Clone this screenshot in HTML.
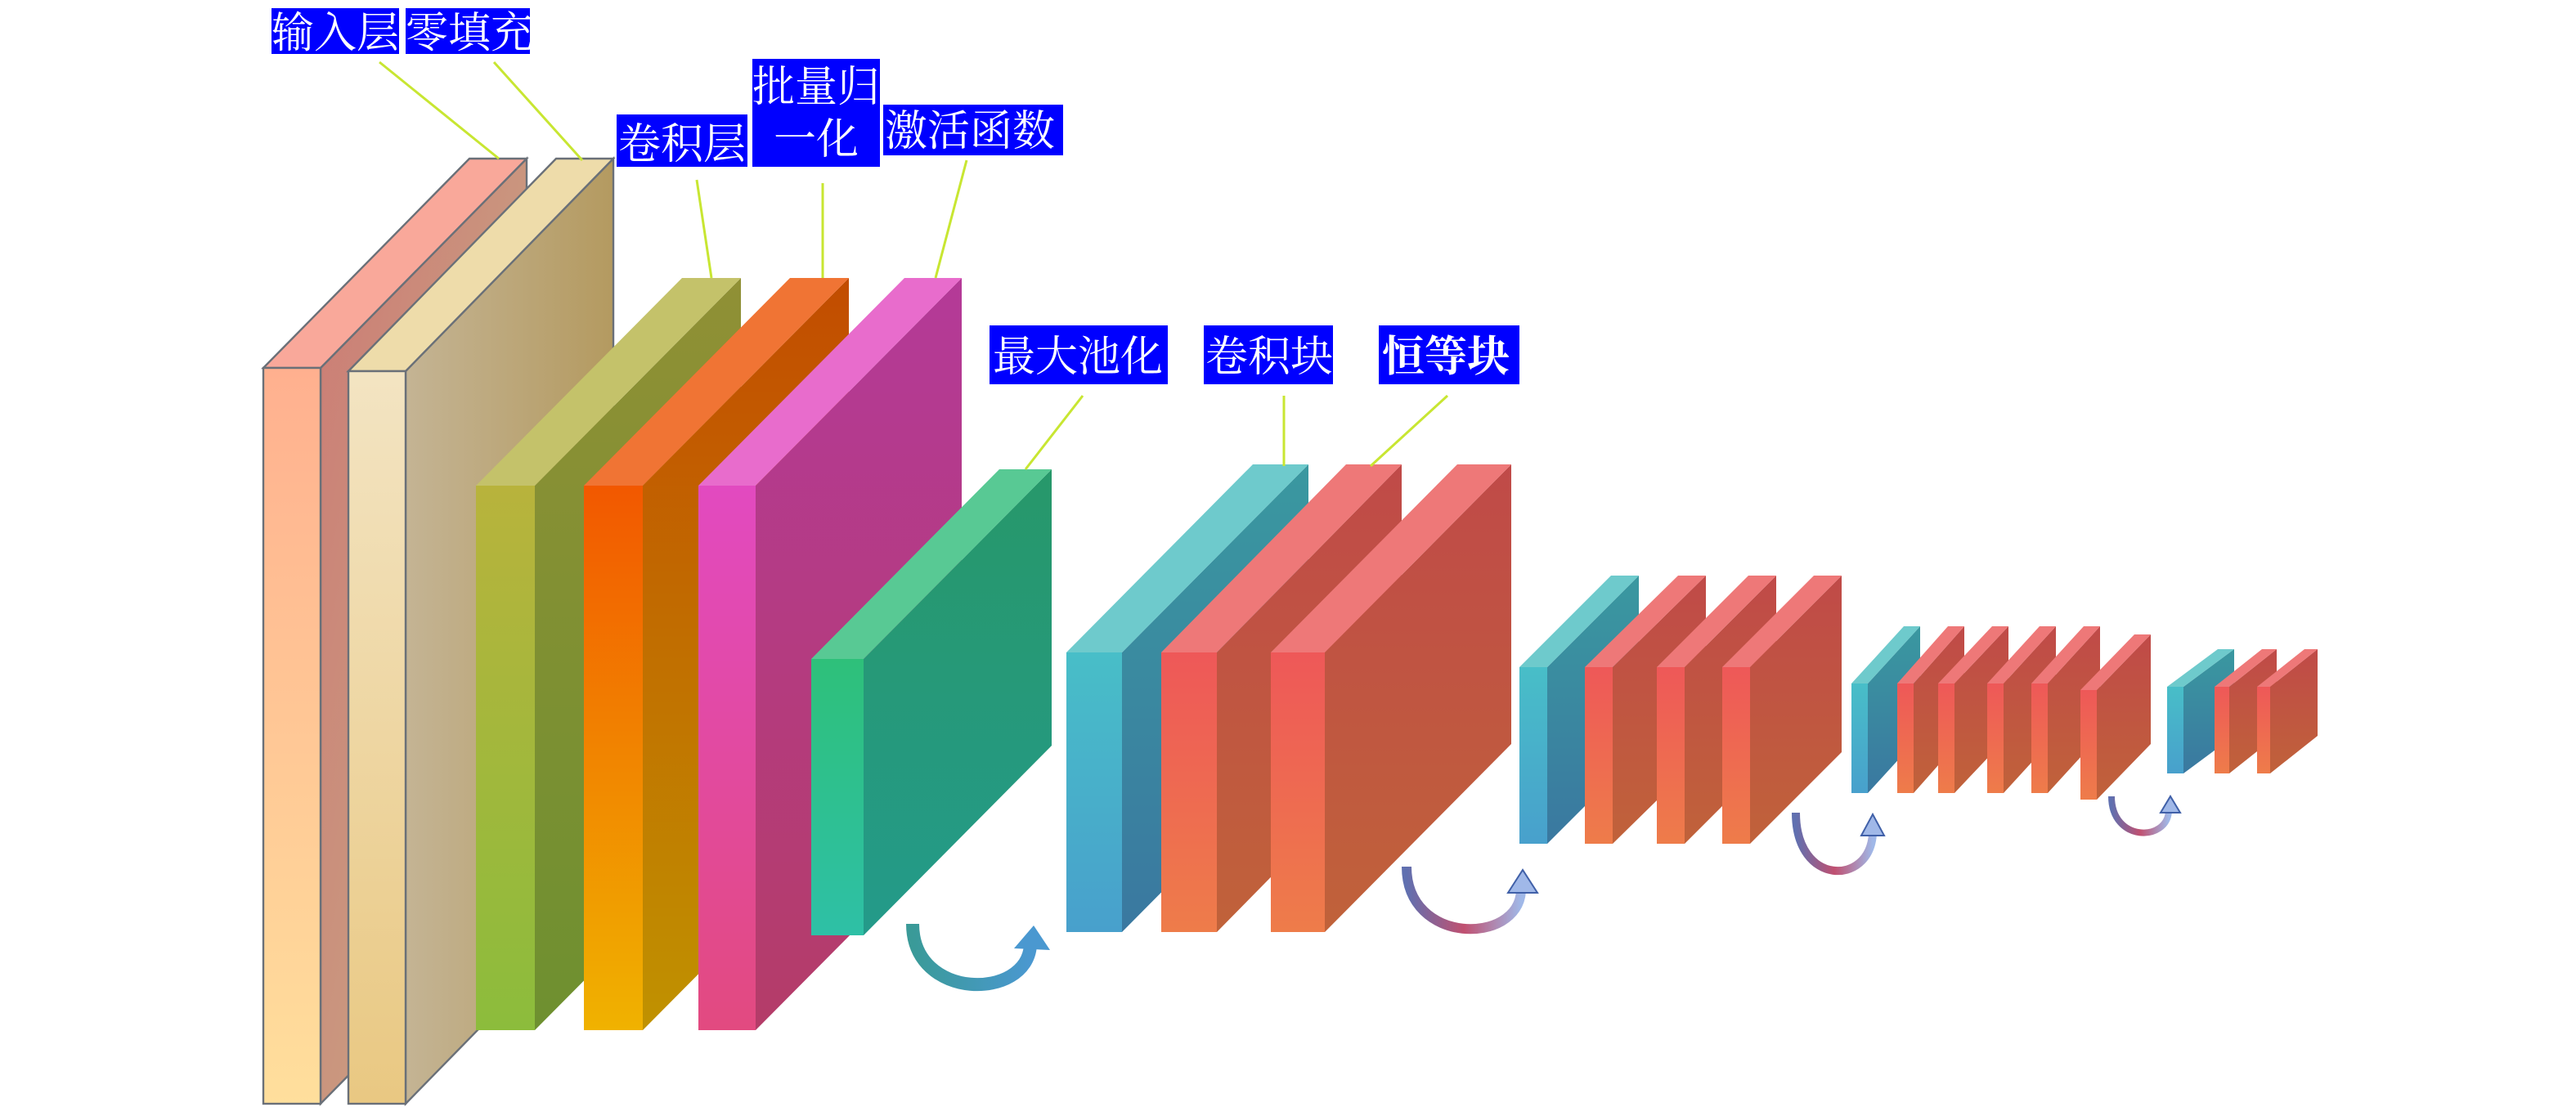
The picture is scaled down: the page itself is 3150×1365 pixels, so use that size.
<!DOCTYPE html>
<html><head><meta charset="utf-8"><style>
html,body{margin:0;padding:0;background:#fff;}
svg{display:block;}
text{font-family:"Liberation Serif","Noto Serif CJK SC",serif;fill:#fff;font-size:26px;}
</style></head><body>
<svg width="3150" height="1365" viewBox="0 0 1575 682.5" xmlns="http://www.w3.org/2000/svg">
<defs>
<linearGradient id="f1" x1="0" y1="0" x2="0" y2="1"><stop offset="0" stop-color="#ffb08f"/><stop offset="1" stop-color="#ffdf9c"/></linearGradient>
<linearGradient id="s1" x1="0" y1="0" x2="1" y2="1"><stop offset="0" stop-color="#cc7a74"/><stop offset="1" stop-color="#c8b088"/></linearGradient>
<linearGradient id="f2" x1="0" y1="0" x2="0" y2="1"><stop offset="0" stop-color="#f3e4c2"/><stop offset="1" stop-color="#e9c882"/></linearGradient>
<linearGradient id="s2" x1="0" y1="0" x2="1" y2="0"><stop offset="0" stop-color="#c4b494"/><stop offset="1" stop-color="#b49a60"/></linearGradient>
<linearGradient id="f3" x1="0" y1="0" x2="0" y2="1"><stop offset="0" stop-color="#b8b33c"/><stop offset="1" stop-color="#8cbc3c"/></linearGradient>
<linearGradient id="s3" x1="0" y1="0" x2="0" y2="1"><stop offset="0" stop-color="#909035"/><stop offset="1" stop-color="#6e9030"/></linearGradient>
<linearGradient id="f4" x1="0" y1="0" x2="0" y2="1"><stop offset="0" stop-color="#f25800"/><stop offset="1" stop-color="#f0b200"/></linearGradient>
<linearGradient id="s4" x1="0" y1="0" x2="0" y2="1"><stop offset="0" stop-color="#c24c00"/><stop offset="1" stop-color="#c09200"/></linearGradient>
<linearGradient id="f5" x1="0" y1="0" x2="0" y2="1"><stop offset="0" stop-color="#e24ac0"/><stop offset="1" stop-color="#e24a80"/></linearGradient>
<linearGradient id="s5" x1="0" y1="0" x2="0" y2="1"><stop offset="0" stop-color="#b43a98"/><stop offset="1" stop-color="#b43c68"/></linearGradient>
<linearGradient id="f6" x1="0" y1="0" x2="0" y2="1"><stop offset="0" stop-color="#2ec07a"/><stop offset="1" stop-color="#2ec0a6"/></linearGradient>
<linearGradient id="s6" x1="0" y1="0" x2="0" y2="1"><stop offset="0" stop-color="#27986a"/><stop offset="1" stop-color="#249a8a"/></linearGradient>
<linearGradient id="f7" x1="0" y1="0" x2="0" y2="1"><stop offset="0" stop-color="#48bec8"/><stop offset="1" stop-color="#48a0cc"/></linearGradient>
<linearGradient id="s7" x1="0" y1="0" x2="0" y2="1"><stop offset="0" stop-color="#3a98a0"/><stop offset="1" stop-color="#3a78a0"/></linearGradient>
<linearGradient id="f8" x1="0" y1="0" x2="0" y2="1"><stop offset="0" stop-color="#ee5858"/><stop offset="1" stop-color="#ee7c4a"/></linearGradient>
<linearGradient id="s8" x1="0" y1="0" x2="0" y2="1"><stop offset="0" stop-color="#c04a48"/><stop offset="1" stop-color="#c0623a"/></linearGradient>
<linearGradient id="a1" x1="0" y1="0" x2="1" y2="0"><stop offset="0" stop-color="#3a9a98"/><stop offset="1" stop-color="#4a98d0"/></linearGradient>
<linearGradient id="a2" x1="0" y1="0" x2="1" y2="0"><stop offset="0" stop-color="#6070b0"/><stop offset="0.5" stop-color="#c05070"/><stop offset="1" stop-color="#a0b8e8"/></linearGradient>
</defs>

<g id="blocks"></g>

<g stroke="#c8e632" stroke-width="1.5" fill="none">
<line x1="232" y1="38" x2="305" y2="97"/>
<line x1="302" y1="38" x2="356" y2="98"/>
<line x1="426" y1="110" x2="435" y2="170"/>
<line x1="503" y1="112" x2="503" y2="170"/>
<line x1="591" y1="98" x2="572" y2="170"/>
<line x1="662" y1="242" x2="627" y2="287"/>
<line x1="785" y1="242" x2="785" y2="285"/>
<line x1="885" y1="242" x2="838" y2="285"/>
</g>

<g>
<rect x="166" y="5" width="78" height="28" fill="#0000ff"/><text x="166" y="29">输入层</text>
<rect x="248" y="5" width="76" height="28" fill="#0000ff"/><text x="248" y="29">零填充</text>
<rect x="377" y="70" width="80" height="32" fill="#0000ff"/><text x="378" y="97">卷积层</text>
<rect x="460" y="36" width="78" height="66" fill="#0000ff"/><text x="460" y="62">批量归</text><text x="473" y="94">一化</text>
<rect x="540" y="64" width="110" height="31" fill="#0000ff"/><text x="541" y="89" font-size="27">激活函数</text>
<rect x="605" y="199" width="109" height="36" fill="#0000ff"/><text x="607" y="227" font-size="27">最大池化</text>
<rect x="736" y="199" width="79" height="36" fill="#0000ff"/><text x="737" y="227" font-size="27">卷积块</text>
<rect x="843" y="199" width="86" height="36" fill="#0000ff"/><text x="845" y="227" font-size="27" font-weight="bold">恒等块</text>
</g>

<g fill="none">
<path d="M558 565 C558 612 628 612 630 578" stroke="url(#a1)" stroke-width="8"/>
<polygon points="620,580 632,566 642,581" fill="#4a98d0"/>
<path d="M860 530 C860 578 928 578 930 545" stroke="url(#a2)" stroke-width="6"/>
<polygon points="922,546 931,532 940,546" fill="#a0b8e8" stroke="#4060a8" stroke-width="1"/>
<path d="M1098 497 C1098 542 1143 542 1145 510" stroke="url(#a2)" stroke-width="5"/>
<polygon points="1138,511 1145,498 1152,511" fill="#a0b8e8" stroke="#4060a8" stroke-width="1"/>
<path d="M1291 487 C1291 515 1325 515 1326 496" stroke="url(#a2)" stroke-width="4"/>
<polygon points="1321,497 1327,487 1333,497" fill="#a0b8e8" stroke="#4060a8" stroke-width="1"/>
</g>
</svg>
<script>
var B=[
[161,196,225,675,126,-128,1,"#f9a89a",1],
[213,248,227,675,127,-130,2,"#eedcaa",1],
[291,327,297,630,126,-127,3,"#c4c26a",0],
[357,393,297,630,126,-127,4,"#f07434",0],
[427,462,297,630,126,-127,5,"#e86ccc",0],
[496,528,403,572,115,-116,6,"#58c994",0],
[652,686,399,570,114,-115,7,"#6ecacc",0],
[710,744,399,570,113,-115,8,"#ee7878",0],
[777,810,399,570,114,-115,8,"#ee7878",0],
[929,946,408,516,56,-56,7,"#6ecacc",0],
[969,986,408,516,57,-56,8,"#ee7878",0],
[1013,1030,408,516,56,-56,8,"#ee7878",0],
[1053,1070,408,516,56,-56,8,"#ee7878",0],
[1132,1142,418,485,32,-35,7,"#6ecacc",0],
[1160,1170,418,485,31,-35,8,"#ee7878",0],
[1185,1195,418,485,33,-35,8,"#ee7878",0],
[1215,1225,418,485,32,-35,8,"#ee7878",0],
[1242,1252,418,485,32,-35,8,"#ee7878",0],
[1272,1282,422,489,33,-34,8,"#ee7878",0],
[1325,1335,420,473,31,-23,7,"#6ecacc",0],
[1354,1363,420,473,29,-23,8,"#ee7878",0],
[1380,1388,420,473,29,-23,8,"#ee7878",0]
];
var g=document.getElementById('blocks'),s='';
B.forEach(function(b){
var x1=b[0],x2=b[1],y1=b[2],y2=b[3],dx=b[4],dy=b[5],c=b[6],tc=b[7];
var st=b[8]?' stroke="#6a7078" stroke-width="1.2"':'';
s+='<polygon points="'+x2+','+y1+' '+(x2+dx)+','+(y1+dy)+' '+(x2+dx)+','+(y2+dy)+' '+x2+','+y2+'" fill="url(#s'+c+')"'+st+'/>';
s+='<polygon points="'+x1+','+y1+' '+(x1+dx)+','+(y1+dy)+' '+(x2+dx)+','+(y1+dy)+' '+x2+','+y1+'" fill="'+tc+'"'+st+'/>';
s+='<rect x="'+x1+'" y="'+y1+'" width="'+(x2-x1)+'" height="'+(y2-y1)+'" fill="url(#f'+c+')"'+st+'/>';
});
g.innerHTML=s;
</script>
</body></html>
